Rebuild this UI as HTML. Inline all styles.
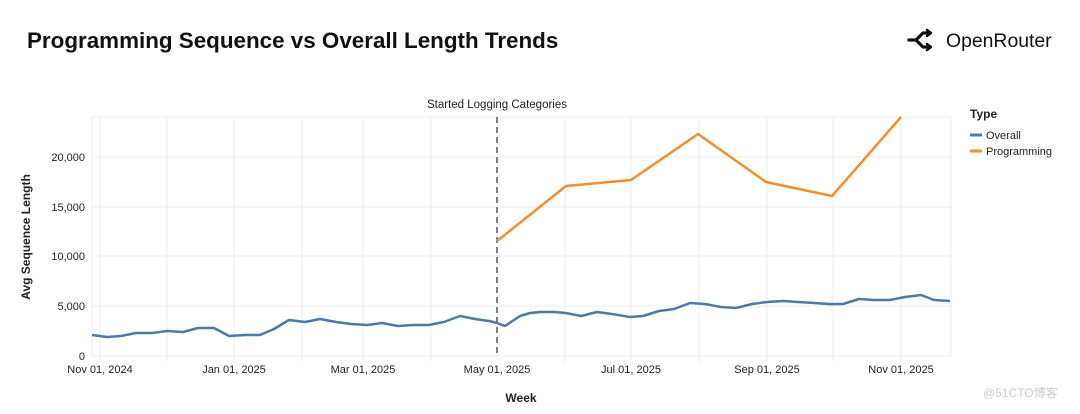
<!DOCTYPE html>
<html><head><meta charset="utf-8"><style>
body{margin:0;background:#fff;width:1080px;height:409px;overflow:hidden;font-family:"Liberation Sans",sans-serif}
</style></head><body>
<svg width="1080" height="409" xmlns="http://www.w3.org/2000/svg" font-family="Liberation Sans, sans-serif">
<text x="27" y="48" font-size="22.4" font-weight="bold" fill="#111">Programming Sequence vs Overall Length Trends</text>
<g transform="translate(908,30)" stroke="#111" stroke-width="3.2" fill="none" stroke-linecap="round" stroke-linejoin="round">
<path d="M1 10 H8 L15 3 H22 M8 10 L15 17 H22"/>
<path d="M19 0 L23 3 L19 6" stroke-width="2.5"/><path d="M19 14 L23 17 L19 20" stroke-width="2.5"/>
</g>
<text x="946" y="47" font-size="19.4" fill="#111">OpenRouter</text>
<g stroke="#ececec" stroke-width="1">
<line x1="92" y1="117" x2="951" y2="117"/>
<line x1="92" y1="157" x2="951" y2="157"/>
<line x1="92" y1="207" x2="951" y2="207"/>
<line x1="92" y1="256" x2="951" y2="256"/>
<line x1="92" y1="306" x2="951" y2="306"/>
<line x1="92" y1="356" x2="951" y2="356"/>
<line x1="92" y1="117" x2="92" y2="356"/>
<line x1="951" y1="117" x2="951" y2="356"/>
<line x1="100" y1="117" x2="100" y2="362"/><line x1="167" y1="117" x2="167" y2="362"/>
<line x1="234" y1="117" x2="234" y2="362"/><line x1="302" y1="117" x2="302" y2="362"/>
<line x1="363" y1="117" x2="363" y2="362"/><line x1="431" y1="117" x2="431" y2="362"/>
<line x1="565" y1="117" x2="565" y2="362"/><line x1="631" y1="117" x2="631" y2="362"/>
<line x1="699" y1="117" x2="699" y2="362"/><line x1="767" y1="117" x2="767" y2="362"/>
<line x1="833" y1="117" x2="833" y2="362"/><line x1="901" y1="117" x2="901" y2="362"/>
</g>
<g font-size="11" fill="#222" text-anchor="end">
<text x="85" y="161">20,000</text><text x="85" y="211">15,000</text><text x="85" y="260">10,000</text><text x="85" y="310">5,000</text><text x="85" y="360">0</text>
</g>
<g font-size="11" fill="#222" text-anchor="middle">
<text x="100" y="373">Nov 01, 2024</text><text x="234" y="373">Jan 01, 2025</text><text x="363" y="373">Mar 01, 2025</text><text x="497" y="373">May 01, 2025</text><text x="631" y="373">Jul 01, 2025</text><text x="767" y="373">Sep 01, 2025</text><text x="901" y="373">Nov 01, 2025</text>
</g>
<text x="521" y="402" font-size="12" font-weight="bold" text-anchor="middle" fill="#222">Week</text>
<text transform="translate(30,237) rotate(-90)" font-size="12" font-weight="bold" text-anchor="middle" fill="#222">Avg Sequence Length</text>
<line x1="497" y1="117" x2="497" y2="356" stroke="#555" stroke-width="1.5" stroke-dasharray="6,4"/>
<text x="497" y="108" font-size="11.5" text-anchor="middle" fill="#222">Started Logging Categories</text>
<polyline fill="none" stroke="#4e79a7" stroke-width="2.5" stroke-linejoin="round" points="92,335 107,337 121,336 136,333 152,333 167,331 183,332 198,328 214,328 229,336 245,335 260,335 274,329 289,320 305,322 320,319 336,322 351,324 367,325 382,323 398,326 413,325 429,325 444,322 460,316 475,319 489,321 497,323 505,326 520,316 530,313 540,312 554,312 566,313 581,316 597,312 612,314 630,317 643,316 659,311 674,309 690,303 705,304 721,307 736,308 752,304 767,302 783,301 798,302 814,303 829,304 843,304 859,299 874,300 890,300 905,297 921,295 934,300 950,301"/>
<polyline fill="none" stroke="#f28e2b" stroke-width="2.5" stroke-linejoin="round" points="497,241 566,186 631,180 698,134 766,182 832,196 901,117"/>
<text x="970" y="118" font-size="12" font-weight="bold" fill="#222">Type</text>
<line x1="970" y1="135" x2="982" y2="135" stroke="#4e79a7" stroke-width="3"/>
<text x="986" y="139" font-size="11" fill="#222">Overall</text>
<line x1="970" y1="151" x2="982" y2="151" stroke="#f28e2b" stroke-width="3"/>
<text x="986" y="155" font-size="11" fill="#222">Programming</text>
<text x="983" y="397" font-size="12" fill="#ccc">@51CTO博客</text>
</svg>
</body></html>
